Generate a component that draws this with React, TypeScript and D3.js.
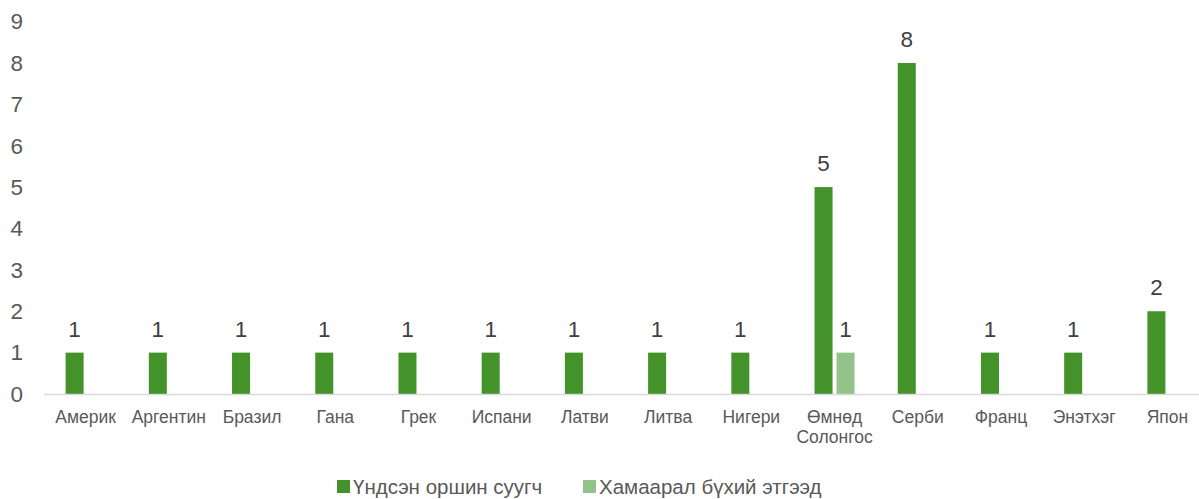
import React from 'react';
import * as d3 from 'd3';

const categories = [
  'Америк', 'Аргентин', 'Бразил', 'Гана', 'Грек', 'Испани', 'Латви',
  'Литва', 'Нигери', 'Өмнөд Солонгос', 'Серби', 'Франц', 'Энэтхэг', 'Япон',
];
const residents = [1, 1, 1, 1, 1, 1, 1, 1, 1, 5, 8, 1, 1, 2];
const related = [0, 0, 0, 0, 0, 0, 0, 0, 0, 1, 0, 0, 0, 0];
const seriesNames = ['Үндсэн оршин суугч', 'Хамаарал бүхий этгээд'];
const colors = ['#43922a', '#93c38a'];
const yTicks = [0, 1, 2, 3, 4, 5, 6, 7, 8, 9];

const W = 1199;
const H = 499;
const font = '"Liberation Sans", Arial, sans-serif';
const textColor = '#595959';

const App = () => {
  const x = d3.scaleBand<string>()
    .domain(categories)
    .range([44, 1209]);

  const y = d3.scaleLinear()
    .domain([0, 9])
    .range([394, 21.6]);

  const barW = 18;
  const gap = 4;
  const groupW = barW * 2 + gap;

  const series = [residents, related];

  return (
    <svg width={W} height={H} style={{ position: 'absolute', left: 0, top: 0, background: '#fff' }} fontFamily={font}>
      {yTicks.map(t => (
        <text key={t} x={23} y={y(t)} dy="0.35em" textAnchor="end" fontSize={22.5} fill={textColor}>{t}</text>
      ))}
      {series.map((vals, si) => (
        <g key={si} fill={colors[si]}>
          {categories.map((c, i) => {
            const v = vals[i];
            if (!v) return null;
            const bx = x(c)! + x.bandwidth() / 2 - groupW / 2 + si * (barW + gap);
            return (
              <g key={c}>
                <rect x={bx} y={y(v)} width={barW} height={y(0) - y(v)} />
                <text x={bx + barW / 2} y={y(v) - 16} textAnchor="middle" fontSize={22.5} fill="#404040">{v}</text>
              </g>
            );
          })}
        </g>
      ))}
      <line x1={44} x2={W} y1={y(0) + 0.5} y2={y(0) + 0.5} stroke="#d9d9d9" strokeWidth={1.5} />
      {categories.map(c => {
        const parts = c.split(' ');
        const cx = x(c)! + x.bandwidth() / 2;
        return (
          <text key={c} x={cx} y={423} textAnchor="middle" fontSize={17.5} fill={textColor}>
            {parts.map((p, k) => (
              <tspan key={k} x={cx} dy={k === 0 ? 0 : 20}>{p}</tspan>
            ))}
          </text>
        );
      })}
      <g>
        <rect x={337} y={480} width={13} height={13} fill={colors[0]} />
        <text x={353} y={494} fontSize={20.5} fill={textColor}>{seriesNames[0]}</text>
        <rect x={583} y={480} width={13} height={13} fill={colors[1]} />
        <text x={599} y={494} fontSize={20.5} fill={textColor}>{seriesNames[1]}</text>
      </g>
    </svg>
  );
};

export default App;
